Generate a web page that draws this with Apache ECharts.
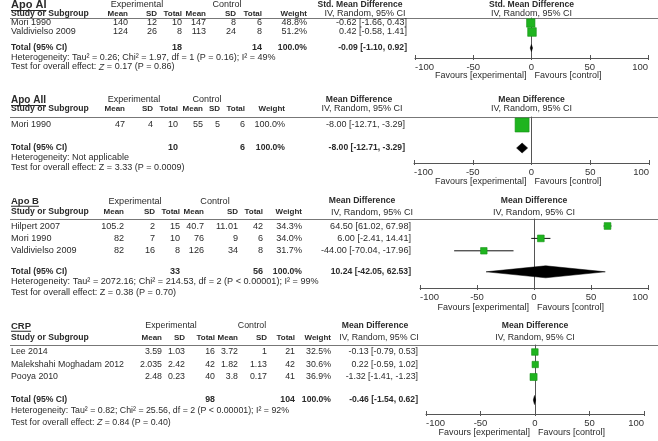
<!DOCTYPE html>
<html><head><meta charset="utf-8">
<script src="https://cdn.jsdelivr.net/npm/echarts@6/dist/echarts.min.js"></script>
<style>html,body{margin:0;padding:0;background:#fff}#c{width:658px;height:441px}</style>
</head><body><div id="c"></div>
<script>
// ================= DATA =================
const axisTickValues = [-100, -50, 0, 50, 100];
const favoursLabels = ['Favours [experimental]', 'Favours [control]'];
const colHeaders = ['Mean', 'SD', 'Total', 'Mean', 'SD', 'Total', 'Weight'];
const methodLabel = 'IV, Random, 95% CI';

// --- Apo AI ---
const apoAI_title = 'Apo AI';
const apoAI_measure = 'Std. Mean Difference';
const apoAI_study = ['Mori 1990', 'Valdivielso 2009'];
const apoAI_expMean = ['140', '124'];
const apoAI_expSD = ['12', '26'];
const apoAI_expN = ['10', '8'];
const apoAI_ctlMean = ['147', '113'];
const apoAI_ctlSD = ['8', '24'];
const apoAI_ctlN = ['6', '8'];
const apoAI_weight = [48.8, 51.2];
const apoAI_est = [-0.62, 0.42];
const apoAI_lo = [-1.66, -0.58];
const apoAI_hi = [0.43, 1.41];
const apoAI_totalN = ['18', '14'];
const apoAI_total = [-0.09, -1.10, 0.92];
const apoAI_het = 'Heterogeneity: Tau² = 0.26; Chi² = 1.97, df = 1 (P = 0.16); I² = 49%';
const apoAI_test = 'Test for overall effect: {i|Z} = 0.17 (P = 0.86)';

// --- Apo AII ---
const apoAII_title = 'Apo AII';
const apoAII_measure = 'Mean Difference';
const apoAII_study = ['Mori 1990'];
const apoAII_expMean = ['47'];
const apoAII_expSD = ['4'];
const apoAII_expN = ['10'];
const apoAII_ctlMean = ['55'];
const apoAII_ctlSD = ['5'];
const apoAII_ctlN = ['6'];
const apoAII_weight = [100.0];
const apoAII_est = [-8.00];
const apoAII_lo = [-12.71];
const apoAII_hi = [-3.29];
const apoAII_totalN = ['10', '6'];
const apoAII_total = [-8.00, -12.71, -3.29];
const apoAII_het = 'Heterogeneity: Not applicable';
const apoAII_test = 'Test for overall effect: Z = 3.33 (P = 0.0009)';

// --- Apo B ---
const apoB_title = 'Apo B';
const apoB_measure = 'Mean Difference';
const apoB_study = ['Hilpert 2007', 'Mori 1990', 'Valdivielso 2009'];
const apoB_expMean = ['105.2', '82', '82'];
const apoB_expSD = ['2', '7', '16'];
const apoB_expN = ['15', '10', '8'];
const apoB_ctlMean = ['40.7', '76', '126'];
const apoB_ctlSD = ['11.01', '9', '34'];
const apoB_ctlN = ['42', '6', '8'];
const apoB_weight = [34.3, 34.0, 31.7];
const apoB_est = [64.50, 6.00, -44.00];
const apoB_lo = [61.02, -2.41, -70.04];
const apoB_hi = [67.98, 14.41, -17.96];
const apoB_totalN = ['33', '56'];
const apoB_total = [10.24, -42.05, 62.53];
const apoB_het = 'Heterogeneity: Tau² = 2072.16; Chi² = 214.53, df = 2 (P < 0.00001); I² = 99%';
const apoB_test = 'Test for overall effect: Z = 0.38 (P = 0.70)';

// --- CRP ---
const crp_title = 'CRP';
const crp_measure = 'Mean Difference';
const crp_study = ['Lee 2014', 'Malekshahi Moghadam 2012', 'Pooya 2010'];
const crp_expMean = ['3.59', '2.035', '2.48'];
const crp_expSD = ['1.03', '2.42', '0.23'];
const crp_expN = ['16', '42', '40'];
const crp_ctlMean = ['3.72', '1.82', '3.8'];
const crp_ctlSD = ['1', '1.13', '0.17'];
const crp_ctlN = ['21', '42', '41'];
const crp_weight = [32.5, 30.6, 36.9];
const crp_est = [-0.13, 0.22, -1.32];
const crp_lo = [-0.79, -0.59, -1.41];
const crp_hi = [0.53, 1.02, -1.23];
const crp_totalN = ['98', '104'];
const crp_total = [-0.46, -1.54, 0.62];
const crp_het = 'Heterogeneity: Tau² = 0.82; Chi² = 25.56, df = 2 (P < 0.00001); I² = 92%';
const crp_test = 'Test for overall effect: {i|Z} = 0.84 (P = 0.40)';

// ================= LAYOUT (pixels) =================
const W = 658;
const FAM = '"Liberation Sans", Arial, sans-serif';
const layouts = [
  {yTitle:4.5, yH2:14, yLine:18, rowTop:23, rowH:9, totGap:16, yHet:58, yTest:67, yAxis:58, yFav:76,
   gl:415, gr:10, cols:[128,157,182,206,236,262,307], effR:407, effC1:360, effC2:365, tfs:11, dh:3.5, fs:9},
  {yTitle:100, yH2:109, yLine:117, rowTop:125, rowH:12, totGap:23, yHet:158, yTest:168, yAxis:163, yFav:182,
   gl:414, gr:9, cols:[125,153,178,203,220,245,285], effR:405, effC1:359, effC2:362, tfs:10, dh:5, fs:9},
  {yTitle:201, yH2:212, yLine:219, rowTop:226, rowH:12.4, totGap:21, yHet:281, yTest:292, yAxis:288, yFav:308,
   gl:420, gr:10, cols:[124,155,180,204,238,263,302], effR:411, effC1:362, effC2:372, tfs:9.5, dh:6, fs:9.1},
  {yTitle:326, yH2:338, yLine:345, rowTop:352, rowH:12.5, totGap:23, yHet:411, yTest:423, yAxis:414, yFav:433,
   gl:426, gr:14, cols:[162,185,215,238,267,295,331], effR:418, effC1:375, effC2:379, tfs:9.5, dh:4.5, fs:8.8}
];
const expCtlCenters = [[137,227],[134,207],[135,215],[171,252]];
const HFS = 8;

const panels = [
  {title:apoAI_title, measure:apoAI_measure, study:apoAI_study, cols:[apoAI_expMean,apoAI_expSD,apoAI_expN,apoAI_ctlMean,apoAI_ctlSD,apoAI_ctlN], weight:apoAI_weight, est:apoAI_est, lo:apoAI_lo, hi:apoAI_hi, totalN:apoAI_totalN, total:apoAI_total, het:apoAI_het, test:apoAI_test},
  {title:apoAII_title, measure:apoAII_measure, study:apoAII_study, cols:[apoAII_expMean,apoAII_expSD,apoAII_expN,apoAII_ctlMean,apoAII_ctlSD,apoAII_ctlN], weight:apoAII_weight, est:apoAII_est, lo:apoAII_lo, hi:apoAII_hi, totalN:apoAII_totalN, total:apoAII_total, het:apoAII_het, test:apoAII_test},
  {title:apoB_title, measure:apoB_measure, study:apoB_study, cols:[apoB_expMean,apoB_expSD,apoB_expN,apoB_ctlMean,apoB_ctlSD,apoB_ctlN], weight:apoB_weight, est:apoB_est, lo:apoB_lo, hi:apoB_hi, totalN:apoB_totalN, total:apoB_total, het:apoB_het, test:apoB_test},
  {title:crp_title, measure:crp_measure, study:crp_study, cols:[crp_expMean,crp_expSD,crp_expN,crp_ctlMean,crp_ctlSD,crp_ctlN], weight:crp_weight, est:crp_est, lo:crp_lo, hi:crp_hi, totalN:crp_totalN, total:crp_total, het:crp_het, test:crp_test}
];

// ================= BUILD =================
const TXT = '#2b2b2b';
const mctx = document.createElement('canvas').getContext('2d');
function tw(t, font){ mctx.font = font; return mctx.measureText(t).width; }
function T(x, y, text, o) {
  o = o || {};
  const fs = o.fs || 9;
  const st = {text: text, fill: o.c || TXT, font: (o.b ? 'bold ' : '') + fs + 'px ' + FAM,
    textAlign: o.a || 'left', align: o.a || 'left', textVerticalAlign: 'middle', verticalAlign: 'middle'};
  if (o.rich) st.rich = {i: {fontStyle: 'italic', fontSize: fs, fontFamily: FAM, fill: o.c || TXT}};
  return {type: 'text', x: x, y: y, silent: true, style: st};
}
function eff(e, l, h){ return e.toFixed(2) + ' [' + l.toFixed(2) + ', ' + h.toFixed(2) + ']'; }

const grids = [], xAxes = [], yAxes = [], series = [], graphics = [];
panels.forEach(function (p, k) {
  const L = layouts[k];
  const fs = L.fs;
  const n = p.study.length;
  const totalRow = (n - 1) + L.totGap / L.rowH;
  const yOf = function (v) { return L.rowTop + v * L.rowH; };
  const zeroX = L.gl + (W - L.gl - L.gr) / 2;

  grids.push({left: L.gl, right: L.gr, top: L.yLine, height: L.yAxis - L.yLine});
  const common = {gridIndex: k, type: 'value', min: -100, max: 100, interval: 50, position: 'bottom', splitLine: {show: false}};
  xAxes.push(Object.assign({}, common, {
    axisLine: {show: true, onZero: false, lineStyle: {color: '#555', width: 1}},
    axisTick: {show: true, inside: true, length: 3, lineStyle: {color: '#555'}},
    axisLabel: {show: true, fontSize: 9.5, color: '#333', fontFamily: FAM, margin: 4, alignMinLabel: 'left', alignMaxLabel: 'right'}
  }));
  xAxes.push(Object.assign({}, common, {
    axisLine: {show: false, onZero: false},
    axisTick: {show: true, inside: false, length: 2, lineStyle: {color: '#555'}},
    axisLabel: {show: false}
  }));
  yAxes.push({gridIndex: k, type: 'value', inverse: true,
    min: (L.yLine - L.rowTop) / L.rowH, max: (L.yAxis - L.rowTop) / L.rowH,
    axisLine: {show: true, onZero: true, onZeroAxisIndex: 2 * k, lineStyle: {color: '#555', width: 1}},
    axisTick: {show: false}, axisLabel: {show: false}, splitLine: {show: false}});

  const data = p.est.map(function (e, i) { return [e, i, p.lo[i], p.hi[i], p.weight[i], 0]; });
  data.push([p.total[0], totalRow, p.total[1], p.total[2], 100, 1]);
  series.push({type: 'custom', xAxisIndex: 2 * k, yAxisIndex: k, data: data, encode: {x: 0, y: 1},
    clip: false, silent: true, animation: false,
    renderItem: function (params, api) {
      const y = api.value(1);
      const c = api.coord([api.value(0), y]);
      const a = api.coord([api.value(2), y]);
      const b = api.coord([api.value(3), y]);
      if (api.value(5) === 0) {
        const s = 3 + 11 * api.value(4) / 100;
        return {type: 'group', children: [
          {type: 'line', shape: {x1: a[0], y1: a[1], x2: b[0], y2: b[1]}, style: {stroke: '#111', lineWidth: 1}},
          {type: 'rect', shape: {x: c[0] - s / 2, y: c[1] - s / 2, width: s, height: s}, style: {fill: '#1fb41f', stroke: '#169016', lineWidth: 0.6}}
        ]};
      }
      const h = L.dh;
      return {type: 'polygon', shape: {points: [[a[0], c[1]], [c[0], c[1] - h], [b[0], c[1]], [c[0], c[1] + h]]}, style: {fill: '#000', stroke: '#000', lineWidth: 0.5}};
    }
  });

  // ---- table text ----
  const titleFont = 'bold ' + L.tfs + 'px ' + FAM;
  graphics.push(T(11, L.yTitle, p.title, {b: true, fs: L.tfs}));
  const tW = tw(p.title, titleFont);
  graphics.push({type: 'line', silent: true, shape: {x1: 11, y1: L.yTitle + L.tfs / 2 + 0.5, x2: 11 + tW, y2: L.yTitle + L.tfs / 2 + 0.5}, style: {stroke: TXT, lineWidth: 1}});
  graphics.push(T(expCtlCenters[k][0], L.yTitle, 'Experimental', {a: 'center', fs: fs}));
  graphics.push(T(expCtlCenters[k][1], L.yTitle, 'Control', {a: 'center', fs: fs}));
  graphics.push(T(L.effC1, L.yTitle, p.measure, {a: 'center', b: true, fs: HFS + 0.6}));
  graphics.push(T(zeroX, L.yTitle, p.measure, {a: 'center', b: true, fs: HFS + 0.6}));
  graphics.push(T(11, L.yH2, 'Study or Subgroup', {b: true, fs: HFS + 0.6}));
  colHeaders.forEach(function (h, j) { graphics.push(T(L.cols[j], L.yH2, h, {a: 'right', b: true, fs: HFS})); });
  graphics.push(T(L.effC2, L.yH2, methodLabel, {a: 'center', fs: fs}));
  graphics.push(T(zeroX, L.yH2, methodLabel, {a: 'center', fs: fs}));
  graphics.push({type: 'line', silent: true, shape: {x1: 10, y1: L.yLine + 0.5, x2: W, y2: L.yLine + 0.5}, style: {stroke: '#777', lineWidth: 1}});

  p.study.forEach(function (s, i) {
    const y = yOf(i);
    graphics.push(T(11, y, s, {fs: fs}));
    p.cols.forEach(function (col, j) { graphics.push(T(L.cols[j], y, col[i], {a: 'right', fs: fs})); });
    graphics.push(T(L.cols[6], y, p.weight[i].toFixed(1) + '%', {a: 'right', fs: fs}));
    graphics.push(T(L.effR, y, eff(p.est[i], p.lo[i], p.hi[i]), {a: 'right', fs: fs}));
  });
  const yt = yOf(totalRow);
  graphics.push(T(11, yt, 'Total (95% CI)', {b: true, fs: HFS + 0.6}));
  graphics.push(T(L.cols[2], yt, p.totalN[0], {a: 'right', b: true, fs: fs}));
  graphics.push(T(L.cols[5], yt, p.totalN[1], {a: 'right', b: true, fs: fs}));
  graphics.push(T(L.cols[6], yt, '100.0%', {a: 'right', b: true, fs: HFS + 0.6}));
  graphics.push(T(L.effR, yt, eff(p.total[0], p.total[1], p.total[2]), {a: 'right', b: true, fs: HFS + 0.6}));
  graphics.push(T(11, L.yHet, p.het, {fs: fs}));
  graphics.push(T(11, L.yTest, p.test, {rich: true, fs: fs}));
  graphics.push(T(zeroX - 5, L.yFav, favoursLabels[0], {fs: 9, a: 'right'}));
  graphics.push(T(zeroX + 3, L.yFav, favoursLabels[1], {fs: 9}));
});

const chart = echarts.init(document.getElementById('c'), null, {renderer: 'canvas'});
chart.setOption({
  animation: false,
  backgroundColor: '#fff',
  grid: grids, xAxis: xAxes, yAxis: yAxes, series: series,
  graphic: {elements: graphics}
});
</script></body></html>
